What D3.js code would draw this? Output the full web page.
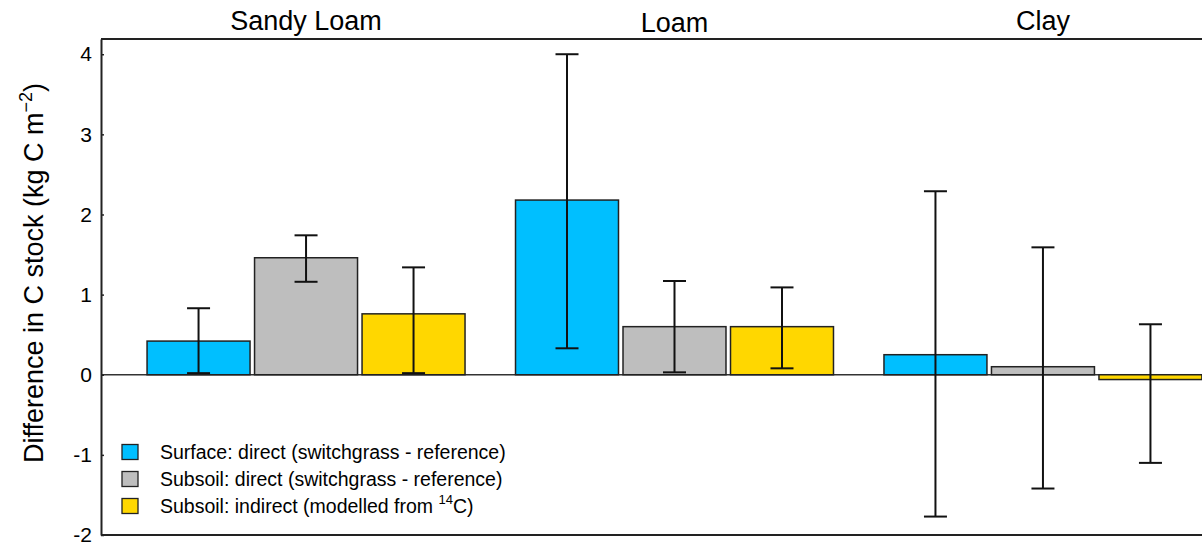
<!DOCTYPE html>
<html>
<head>
<meta charset="utf-8">
<script src="https://cdn.jsdelivr.net/npm/d3@7"></script>
<style>
  html, body { margin: 0; padding: 0; background: #fff; }
  svg { display: block; }
  text { font-family: "Liberation Sans", Arial, sans-serif; fill: #000; }
</style>
</head>
<body>
<div id="chart"></div>
<script>
// ---- Data ----
const groups = ["Sandy Loam", "Loam", "Clay"];
const seriesKeys = ["surface", "subsoilDirect", "subsoilIndirect"];
const seriesLabels = [
  "Surface: direct (switchgrass - reference)",
  "Subsoil: direct (switchgrass - reference)",
  "Subsoil: indirect (modelled from |14|C)"
];
const surfaceValues = [0.42, 2.18, 0.25];
const surfaceLower = [0.02, 0.33, -1.77];
const surfaceUpper = [0.83, 4.00, 2.29];
const subsoilDirectValues = [1.46, 0.60, 0.10];
const subsoilDirectLower = [1.16, 0.03, -1.42];
const subsoilDirectUpper = [1.74, 1.17, 1.59];
const subsoilIndirectValues = [0.76, 0.60, -0.06];
const subsoilIndirectLower = [0.02, 0.08, -1.10];
const subsoilIndirectUpper = [1.34, 1.09, 0.63];
const yTicks = [-2, -1, 0, 1, 2, 3, 4];
const colors = ["#00BFFF", "#BEBEBE", "#FFD700"];

const valueSets = [surfaceValues, subsoilDirectValues, subsoilIndirectValues];
const lowerSets = [surfaceLower, subsoilDirectLower, subsoilIndirectLower];
const upperSets = [surfaceUpper, subsoilDirectUpper, subsoilIndirectUpper];

const rows = [];
groups.forEach((g, gi) => {
  seriesKeys.forEach((s, si) => {
    rows.push({ group: g, series: s, si,
      value: valueSets[si][gi], lo: lowerSets[si][gi], hi: upperSets[si][gi] });
  });
});

// ---- Layout ----
const W = 1202, H = 545;
const plotLeft = 101, plotRight = 1248, plotTop = 39, plotBottom = 535;

const svg = d3.select("#chart").append("svg")
  .attr("width", W).attr("height", H);

const y = d3.scaleLinear().domain([-2, 4.19]).range([plotBottom, plotTop]);
const x0 = d3.scaleBand().domain(groups).range([plotLeft, plotRight])
  .paddingInner(0.137).paddingOuter(0.125);
const x1 = d3.scaleBand().domain(seriesKeys).range([0, x0.bandwidth()])
  .paddingInner(0.042).paddingOuter(0);

// zero line
svg.append("line")
  .attr("x1", plotLeft).attr("x2", W)
  .attr("y1", y(0)).attr("y2", y(0))
  .attr("stroke", "#333").attr("stroke-width", 1.3);

// bars
const g = svg.append("g");
g.selectAll("rect.bar").data(rows).join("rect")
  .attr("class", "bar")
  .attr("x", d => x0(d.group) + x1(d.series))
  .attr("width", x1.bandwidth())
  .attr("y", d => y(Math.max(0, d.value)))
  .attr("height", d => Math.abs(y(d.value) - y(0)))
  .attr("fill", d => colors[d.si])
  .attr("stroke", "#222").attr("stroke-width", 1.5);

// error bars
const capW = 23;
const eb = g.selectAll("g.err").data(rows).join("g").attr("class", "err")
  .attr("transform", d => `translate(${x0(d.group) + x1(d.series) + x1.bandwidth() / 2},0)`);
eb.append("line").attr("x1", 0).attr("x2", 0)
  .attr("y1", d => y(d.hi)).attr("y2", d => y(d.lo))
  .attr("stroke", "#111").attr("stroke-width", 2);
eb.append("line").attr("x1", -capW / 2).attr("x2", capW / 2)
  .attr("y1", d => y(d.hi)).attr("y2", d => y(d.hi))
  .attr("stroke", "#111").attr("stroke-width", 2);
eb.append("line").attr("x1", -capW / 2).attr("x2", capW / 2)
  .attr("y1", d => y(d.lo)).attr("y2", d => y(d.lo))
  .attr("stroke", "#111").attr("stroke-width", 2);

// frame: top and bottom lines
svg.append("line").attr("x1", plotLeft).attr("x2", W)
  .attr("y1", plotTop).attr("y2", plotTop)
  .attr("stroke", "#222").attr("stroke-width", 2);
svg.append("line").attr("x1", plotLeft).attr("x2", W)
  .attr("y1", plotBottom).attr("y2", plotBottom)
  .attr("stroke", "#222").attr("stroke-width", 2);

// y axis
const yAxis = d3.axisLeft(y).tickValues(yTicks).tickSizeInner(-3).tickSizeOuter(0)
  .tickPadding(9).tickFormat(d => String(d));
const ya = svg.append("g").attr("transform", `translate(${plotLeft},0)`).call(yAxis);
ya.select(".domain").attr("stroke", "#222").attr("stroke-width", 2);
ya.selectAll(".tick line").attr("stroke", "#222").attr("stroke-width", 1.5);
ya.selectAll(".tick text")
  .style("font-family", "'Liberation Sans', Arial, sans-serif")
  .style("font-size", "21px").attr("fill", "#000");

// group titles
svg.selectAll("text.gtitle").data(groups).join("text")
  .attr("class", "gtitle")
  .attr("x", d => x0(d) + x0.bandwidth() / 2)
  .attr("y", (d, i) => i === 1 ? 32 : 30)
  .attr("text-anchor", "middle")
  .style("font-size", "27px")
  .text(d => d);

// y label
const yl = svg.append("text")
  .attr("transform", `translate(43,${(plotTop + plotBottom) / 2 - 14}) rotate(-90)`)
  .attr("text-anchor", "middle")
  .style("font-size", "27px");
yl.append("tspan").text("Difference in C stock (kg C m");
yl.append("tspan").attr("dy", -11).style("font-size", "18px").text("\u22122");
yl.append("tspan").attr("dy", 11).text(")");

// legend
const leg = svg.append("g");
const legY0 = 452, legStep = 27;
seriesLabels.forEach((lab, i) => {
  const cy = legY0 + i * legStep;
  leg.append("rect").attr("x", 122).attr("y", cy - 7.5)
    .attr("width", 16).attr("height", 15)
    .attr("fill", colors[i]).attr("stroke", "#222").attr("stroke-width", 1.3);
  const t = leg.append("text").attr("x", 160).attr("y", cy + 7)
    .style("font-size", "19.5px");
  const parts = lab.split("|");
  if (parts.length === 1) {
    t.text(lab);
  } else {
    t.append("tspan").text(parts[0]);
    t.append("tspan").attr("dy", -9).style("font-size", "13px").text(parts[1]);
    t.append("tspan").attr("dy", 9).text(parts[2]);
  }
});
</script>
</body>
</html>
